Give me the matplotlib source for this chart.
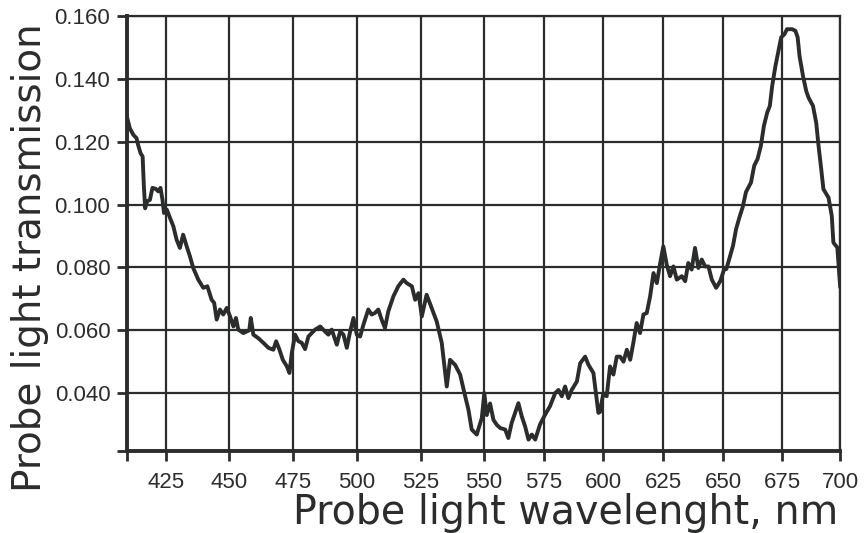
import numpy as np
import matplotlib
matplotlib.use('Agg')
import matplotlib.pyplot as plt

# wavelength (nm) and transmission
wavelength = [
    409.6, 410.6, 412.0, 413.3, 413.9, 414.9, 415.7, 416.2, 416.7, 417.5,
    418.6, 419.6, 420.9, 421.9, 422.8, 423.6, 424.2, 425.3, 426.6, 427.9,
    429.2, 430.5, 431.8, 433.2, 434.5, 435.8, 437.8, 439.8, 441.4, 443.1,
    444.1, 445.1, 446.4, 447.7, 449.1, 450.4, 451.7, 452.7, 453.6, 455.6,
    456.9, 457.9, 458.5, 459.5, 461.4, 463.4, 465.4, 467.3, 468.4, 469.7,
    471.0, 472.6, 473.6, 474.5, 475.8, 477.1, 478.4, 479.7, 481.0, 481.7,
    483.6, 485.6, 487.5, 488.8, 490.1, 492.1, 493.4, 494.7, 496.0, 497.3,
    498.6, 499.9, 501.2, 502.5, 504.4, 505.7, 507.0, 508.3, 509.6, 510.9,
    512.2, 514.2, 516.1, 518.1, 519.4, 521.4, 522.7, 524.0, 525.3, 527.2,
    529.2, 531.2, 533.2, 535.2, 536.5, 538.5, 540.5, 542.5, 543.8, 545.1,
    547.1, 549.1, 550.1, 551.1, 552.5, 553.9, 555.3, 556.7, 558.8, 560.1,
    561.5, 562.9, 564.3, 565.7, 567.1, 568.5, 569.9, 571.3, 573.3, 575.4,
    577.5, 579.7, 581.1, 582.5, 583.9, 585.3, 586.7, 588.9, 590.3, 592.4,
    593.8, 595.9, 598.0, 598.7, 600.1, 601.5, 602.9, 604.3, 605.7, 607.1,
    608.5, 609.9, 611.3, 612.6, 614.0, 615.4, 616.8, 618.2, 619.6, 621.0,
    622.4, 623.8, 625.1, 626.5, 627.9, 629.3, 630.7, 632.8, 634.2, 635.5,
    636.9, 638.3, 639.7, 641.1, 642.5, 643.9, 645.3, 647.1, 648.8, 650.4,
    651.4, 652.8, 654.2, 655.5, 656.9, 658.3, 659.7, 661.8, 663.2, 664.6,
    666.0, 667.3, 668.7, 669.8, 670.8, 672.2, 673.6, 674.6, 676.0, 677.1,
    679.3, 680.7, 681.7, 682.5, 684.0, 685.4, 686.4, 688.3, 689.7, 690.7,
    691.7, 692.8, 695.0, 696.4, 697.1, 698.8, 700.0,
]
transmission = [
    0.1275, 0.1243, 0.1222, 0.1211, 0.1190, 0.1163, 0.1153, 0.1058, 0.0988, 0.1010,
    0.1015, 0.1053, 0.1050, 0.1042, 0.1053, 0.1015, 0.0973, 0.0984, 0.0957, 0.0931,
    0.0888, 0.0862, 0.0904, 0.0867, 0.0835, 0.0798, 0.0761, 0.0735, 0.0740, 0.0697,
    0.0687, 0.0634, 0.0666, 0.0650, 0.0671, 0.0644, 0.0612, 0.0639, 0.0602, 0.0591,
    0.0596, 0.0600, 0.0639, 0.0586, 0.0575, 0.0560, 0.0544, 0.0538, 0.0565, 0.0538,
    0.0506, 0.0485, 0.0464, 0.0527, 0.0586, 0.0565, 0.0560, 0.0540, 0.0580, 0.0586,
    0.0602, 0.0612, 0.0596, 0.0586, 0.0602, 0.0554, 0.0596, 0.0586, 0.0544, 0.0596,
    0.0639, 0.0586, 0.0580, 0.0618, 0.0666, 0.0650, 0.0655, 0.0666, 0.0634, 0.0607,
    0.0660, 0.0708, 0.0740, 0.0761, 0.0750, 0.0740, 0.0697, 0.0718, 0.0644, 0.0713,
    0.0671, 0.0628, 0.0560, 0.0421, 0.0506, 0.0490, 0.0459, 0.0390, 0.0347, 0.0284,
    0.0268, 0.0321, 0.0400, 0.0330, 0.0367, 0.0315, 0.0299, 0.0289, 0.0284, 0.0257,
    0.0305, 0.0337, 0.0368, 0.0326, 0.0294, 0.0252, 0.0268, 0.0252, 0.0300, 0.0331,
    0.0358, 0.0400, 0.0410, 0.0390, 0.0421, 0.0384, 0.0410, 0.0437, 0.0495, 0.0516,
    0.0490, 0.0464, 0.0337, 0.0340, 0.0400, 0.0390, 0.0485, 0.0459, 0.0516, 0.0516,
    0.0500, 0.0538, 0.0506, 0.0560, 0.0623, 0.0591, 0.0650, 0.0655, 0.0708, 0.0782,
    0.0750, 0.0814, 0.0867, 0.0809, 0.0772, 0.0803, 0.0761, 0.0772, 0.0756, 0.0814,
    0.0793, 0.0862, 0.0798, 0.0825, 0.0803, 0.0803, 0.0761, 0.0735, 0.0756, 0.0793,
    0.0795, 0.0832, 0.0869, 0.0922, 0.0959, 0.0992, 0.1040, 0.1070, 0.1124, 0.1145,
    0.1187, 0.1251, 0.1293, 0.1314, 0.1378, 0.1442, 0.1495, 0.1532, 0.1542, 0.1558,
    0.1558, 0.1553, 0.1532, 0.1473, 0.1409, 0.1361, 0.1340, 0.1314, 0.1260, 0.1187,
    0.1123, 0.1049, 0.1022, 0.0964, 0.0879, 0.0863, 0.0740,
]

x_ticks = [425, 450, 475, 500, 525, 550, 575, 600, 625, 650, 675, 700]
y_ticks = [0.040, 0.060, 0.080, 0.100, 0.120, 0.140, 0.160]
x_min, y_min = 409.5, 0.0216

# the scanned original is not evenly spaced along x, so warp the axis to follow it
warp_nm = np.array([409.5, 425, 450, 475, 500, 525, 550, 575, 600, 625, 650, 675, 700])
warp_pos = np.array([127, 166, 229, 293, 357, 421, 484, 544, 603, 663, 723, 782, 840], float)


def fwd(v):
    return np.interp(v, warp_nm, warp_pos)


def inv(v):
    return np.interp(v, warp_pos, warp_nm)


ink = '#2b2d2d'
plt.rcParams['font.family'] = ['Liberation Sans', 'DejaVu Sans']

fig = plt.figure(figsize=(8.67, 5.33), dpi=100)
ax = fig.add_axes([0.1465, 0.154, 0.8225, 0.816])

ax.set_xscale('function', functions=(fwd, inv))
ax.plot(wavelength, transmission, color=ink, lw=2.8, solid_joinstyle='round', zorder=3)

ax.set_xlim(x_min, 700)
ax.set_ylim(y_min, 0.160)

# edge ticks at the axis minimum carry no label
ax.set_xticks([x_min] + x_ticks)
ax.set_xticklabels([''] + [str(t) for t in x_ticks])
ax.set_yticks([y_min] + y_ticks)
ax.set_yticklabels([''] + ['%.3f' % t for t in y_ticks])
ax.minorticks_off()

ax.grid(True, color=ink, lw=1.6)
ax.tick_params(direction='out', length=7, width=2, color=ink,
               labelsize=16, labelcolor=ink)
ax.tick_params(axis='x', pad=8)
ax.tick_params(axis='y', pad=5)

for side in ['left', 'bottom']:
    ax.spines[side].set_linewidth(2.8)
    ax.spines[side].set_color(ink)
for side in ['top', 'right']:
    ax.spines[side].set_linewidth(1.6)
    ax.spines[side].set_color(ink)

ax.set_xlabel('Probe light wavelenght, nm', fontsize=28.5, family='DejaVu Sans', color=ink,
              ha='right', va='baseline')
ax.xaxis.set_label_coords(0.998, -0.168)
ax.set_ylabel('Probe light transmission', fontsize=28, family='DejaVu Sans', color=ink,
              ha='left', y=-0.094, labelpad=4)

fig.savefig('out.png', dpi=100)
